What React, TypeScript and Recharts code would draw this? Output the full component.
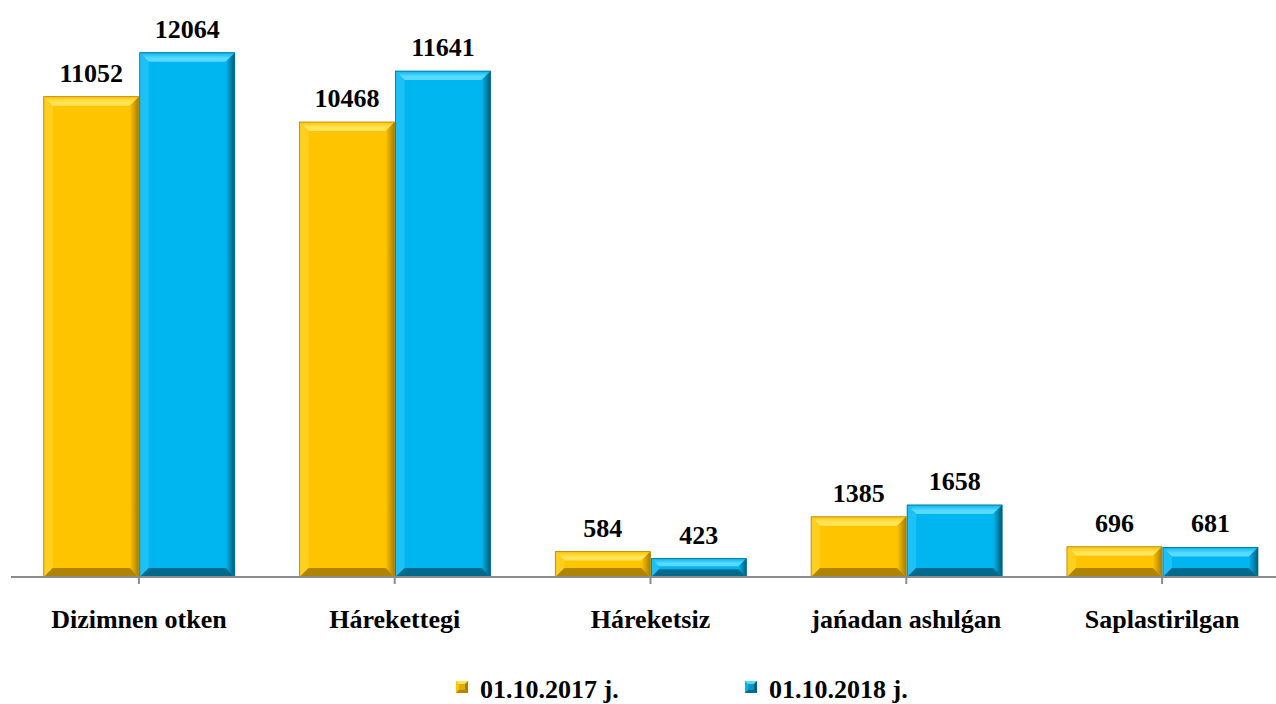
import React from 'react';
import { BarChart, Bar, XAxis, YAxis, LabelList, Legend } from 'recharts';

const categories = ['Dizimnen otken', 'Hárekettegi', 'Háreketsiz', 'jańadan ashılǵan', 'Saplastirilgan'];
const values2017 = [11052, 10468, 584, 1385, 696];
const values2018 = [12064, 11641, 423, 1658, 681];
const seriesNames = ['01.10.2017 j.', '01.10.2018 j.'];

const data = categories.map((name, i) => ({
  name,
  a: values2017[i],
  b: values2018[i],
}));

const FONT = '"Liberation Serif", "Times New Roman", serif';

const palettes = {
  a: { id: 'ga', base: '#FFC400', light: '#FFE45A', side: '#FFCF20', dark: '#A67C00', bottom: '#B08300' },
  b: { id: 'gb', base: '#00B6F0', light: '#5AD9FF', side: '#1CC2F6', dark: '#005A78', bottom: '#006A8E' },
};

function makeBevel(p: typeof palettes.a) {
  return (props: any) => {
    const { x, y, width: w, height: h } = props;
    if (!w || !h || h <= 0) return <g />;
    const d = Math.min(9, h / 2.4, w / 2.4);
    const pts = (arr: number[][]) => arr.map((q) => q.join(',')).join(' ');
    return (
      <g>
        <rect x={x} y={y} width={w} height={h} fill={p.base} />
        <polygon points={pts([[x, y], [x + w, y], [x + w - d, y + d], [x + d, y + d]])} fill={`url(#${p.id}-top)`} />
        <polygon points={pts([[x, y], [x + d, y + d], [x + d, y + h - d], [x, y + h]])} fill={p.side} />
        <polygon points={pts([[x + w, y], [x + w, y + h], [x + w - d, y + h - d], [x + w - d, y + d]])} fill={`url(#${p.id}-right)`} />
        <polygon points={pts([[x, y + h], [x + w, y + h], [x + w - d, y + h - d], [x + d, y + h - d]])} fill={p.bottom} />
        <rect x={x} y={y} width={w} height={h} fill="none" stroke={p.bottom} strokeWidth={0.8} />
      </g>
    );
  };
}

const ValueLabel = (props: any) => {
  const { x, y, width, value } = props;
  return (
    <text x={x + width / 2} y={y - 15} textAnchor="middle" fontFamily={FONT} fontWeight="bold" fontSize={26} fill="#000">
      {value}
    </text>
  );
};

const CategoryTick = (props: any) => {
  const { x, y, payload } = props;
  return (
    <text x={x} y={y + 42} textAnchor="middle" fontFamily={FONT} fontWeight="bold" fontSize={26} fill="#000">
      {payload.value}
    </text>
  );
};

const LegendIcon = ({ p }: { p: typeof palettes.a }) => (
  <svg width={12} height={12} style={{ position: 'absolute', left: 0, top: 4 }}>
    <rect x={0} y={0} width={12} height={12} fill={p.base} />
    <polygon points="0,0 12,0 9,3 3,3" fill={p.light} />
    <polygon points="12,0 12,12 9,9 9,3" fill={p.dark} />
    <polygon points="0,12 12,12 9,9 3,9" fill={p.bottom} />
    <polygon points="3,3 9,3 9,9 3,9" fill={p.dark} opacity={0.35} />
  </svg>
);

const LegendBox = () => {
  const item = (p: typeof palettes.a, label: string, left: number) => (
    <div style={{ position: 'absolute', left, top: 30, height: 26, whiteSpace: 'nowrap' }}>
      <LegendIcon p={p} />
      <span style={{ position: 'absolute', left: 24, top: 0, lineHeight: '26px', fontFamily: FONT, fontWeight: 'bold', fontSize: 26, color: '#000' }}>
        {label}
      </span>
    </div>
  );
  return (
    <div style={{ position: 'relative', height: 57, width: 1276 }}>
      {item(palettes.a, seriesNames[0], 456)}
      {item(palettes.b, seriesNames[1], 745)}
    </div>
  );
};

export default function App() {
  return (
    <div style={{ position: 'absolute', left: 0, top: 0, width: 1276, height: 704, overflow: 'hidden', background: '#fff' }}>
      <BarChart
        width={1290}
        height={704}
        data={data}
        margin={{ top: 12, right: 0, left: 11, bottom: 0 }}
        barCategoryGap="12.8%"
        barGap={1}
      >
        <defs>
          {[palettes.a, palettes.b].map((p) => (
            <React.Fragment key={p.id}>
              <linearGradient id={`${p.id}-top`} x1="0" y1="0" x2="0" y2="1">
                <stop offset="0%" stopColor={p.base} />
                <stop offset="60%" stopColor={p.light} />
                <stop offset="100%" stopColor={p.light} />
              </linearGradient>
              <linearGradient id={`${p.id}-right`} x1="0" y1="0" x2="1" y2="0">
                <stop offset="0%" stopColor={p.base} />
                <stop offset="100%" stopColor={p.dark} />
              </linearGradient>
            </React.Fragment>
          ))}
        </defs>
        <XAxis
          dataKey="name"
          height={70}
          axisLine={{ stroke: '#8c8c8c', strokeWidth: 2 }}
          tickLine={{ stroke: '#8c8c8c', strokeWidth: 2 }}
          tickSize={7}
          tick={<CategoryTick />}
          interval={0}
        />
        <YAxis hide domain={[0, 13000]} allowDataOverflow />
        <Legend verticalAlign="bottom" wrapperStyle={{ left: 0, width: 1276 }} content={<LegendBox />} />
        <Bar dataKey="a" name={seriesNames[0]} shape={makeBevel(palettes.a)} isAnimationActive={false}>
          <LabelList dataKey="a" content={<ValueLabel />} />
        </Bar>
        <Bar dataKey="b" name={seriesNames[1]} shape={makeBevel(palettes.b)} isAnimationActive={false}>
          <LabelList dataKey="b" content={<ValueLabel />} />
        </Bar>
      </BarChart>
    </div>
  );
}
